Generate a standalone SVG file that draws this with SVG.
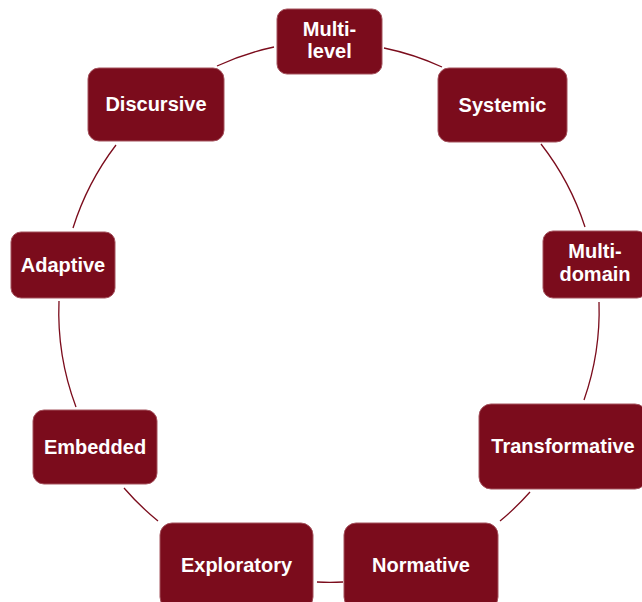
<svg xmlns="http://www.w3.org/2000/svg" width="642" height="602" viewBox="0 0 642 602">
<style>
.n{fill:#7b0c1c;stroke:#a4525d;stroke-width:1}
.t{fill:#fff;font-family:"Liberation Sans",Arial,sans-serif;font-weight:bold;font-size:20px;text-anchor:middle}
.c{fill:none;stroke:#7b0c1c;stroke-width:1.3}
</style>
<rect width="642" height="602" fill="#fff"/>
<g id="connectors">
<path class="c" d="M384,48 A270,270 0 0 1 442,67"/>
<path class="c" d="M541,144 A270,270 0 0 1 585,227"/>
<path class="c" d="M599,302 A270,270 0 0 1 584,400"/>
<path class="c" d="M530,492 A270,270 0 0 1 500,521"/>
<path class="c" d="M343,582 A270,270 0 0 1 317,582"/>
<path class="c" d="M158,521 A270,270 0 0 1 124,488"/>
<path class="c" d="M76,407 A270,270 0 0 1 59,301"/>
<path class="c" d="M73,228 A270,270 0 0 1 116,145"/>
<path class="c" d="M217,66 A270,270 0 0 1 274,47"/>
</g>
<g id="multi-level"><rect class="n" x="277" y="9" width="105" height="65" rx="10"/><text class="t" x="329.5" y="36">Multi-</text><text class="t" x="329.5" y="58">level</text></g>
<g id="systemic"><rect class="n" x="438" y="68" width="129" height="74" rx="11"/><text class="t" x="502.5" y="112">Systemic</text></g>
<g id="multi-domain"><rect class="n" x="543" y="231" width="104" height="67" rx="10"/><text class="t" x="595" y="258">Multi-</text><text class="t" x="595" y="281">domain</text></g>
<g id="transformative"><rect class="n" x="479" y="404" width="168" height="85" rx="12"/><text class="t" x="563" y="453">Transformative</text></g>
<g id="normative"><rect class="n" x="344" y="523" width="154" height="86" rx="12"/><text class="t" x="421" y="572">Normative</text></g>
<g id="exploratory"><rect class="n" x="160" y="523" width="153" height="86" rx="12"/><text class="t" x="236.5" y="572">Exploratory</text></g>
<g id="embedded"><rect class="n" x="33" y="410" width="124" height="74" rx="11"/><text class="t" x="95" y="454">Embedded</text></g>
<g id="adaptive"><rect class="n" x="11" y="232" width="104" height="66" rx="10"/><text class="t" x="63" y="272">Adaptive</text></g>
<g id="discursive"><rect class="n" x="88" y="68" width="136" height="73" rx="11"/><text class="t" x="156" y="111">Discursive</text></g>
</svg>
